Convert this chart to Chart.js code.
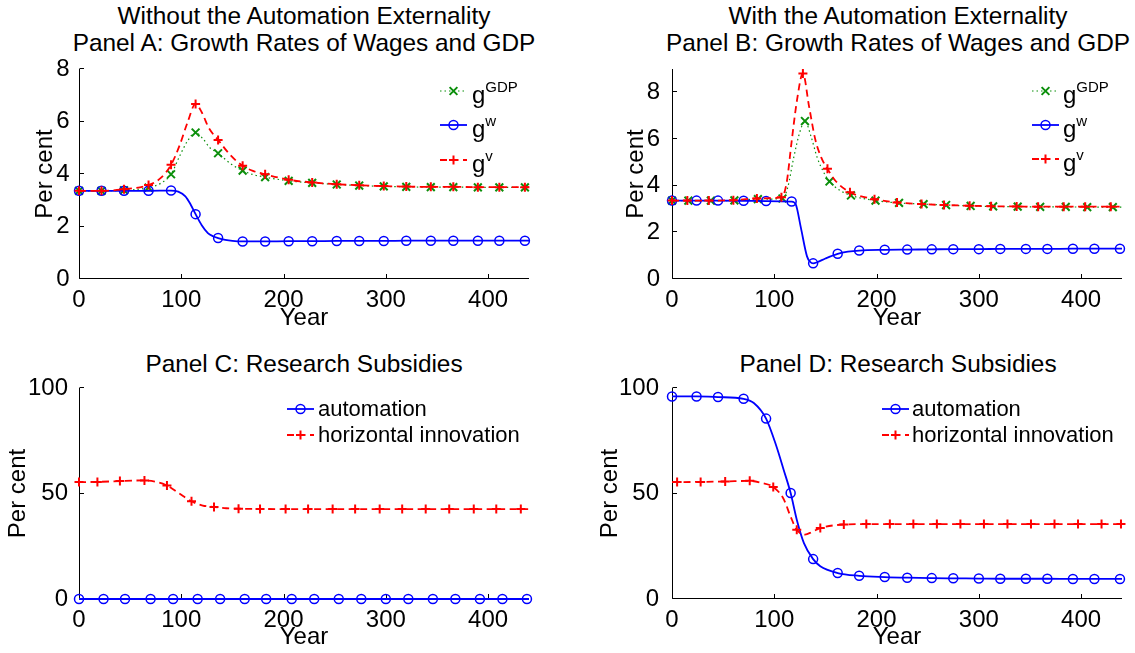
<!DOCTYPE html>
<html>
<head>
<meta charset="utf-8">
<script src="https://cdn.jsdelivr.net/npm/chart.js@4.4.0/dist/chart.umd.min.js"></script>
<style>
  html, body { margin: 0; padding: 0; background: #fff; }
  #fig { position: relative; width: 1135px; height: 653px; overflow: hidden; font-family: "Liberation Sans", Arial, Helvetica, sans-serif; }
  #fig canvas { position: absolute; }
  .ttl { position: absolute; width: 600px; text-align: center; font-size: 24.4px; line-height: 27.5px; color: #000; white-space: nowrap; }
</style>
</head>
<body>
<div id="fig">
  <div class="ttl" style="left:4px;top:1.5px">Without the Automation Externality<br>Panel A: Growth Rates of Wages and GDP</div>
  <div class="ttl" style="left:598px;top:1.5px">With the Automation Externality<br>Panel B: Growth Rates of Wages and GDP</div>
  <div class="ttl" style="left:4px;top:350px">Panel C: Research Subsidies</div>
  <div class="ttl" style="left:598px;top:350px">Panel D: Research Subsidies</div>
  <canvas id="cA" width="567" height="335" style="left:0;top:0"></canvas>
  <canvas id="cB" width="568" height="335" style="left:567px;top:0"></canvas>
  <canvas id="cC" width="567" height="323" style="left:0;top:330px"></canvas>
  <canvas id="cD" width="568" height="323" style="left:567px;top:330px"></canvas>
</div>
<script>
const FONT = '"Liberation Sans", Arial, Helvetica, sans-serif';

// ---- Panel A: growth rates, without the externality ----
const aMarks = [0, 22, 44, 68, 90, 114, 136, 160, 182, 205, 228, 252, 274, 298, 320, 344, 366, 390, 411, 436];
const aWageT = [0, 22, 44, 68, 90, 97, 104, 109, 114, 120, 126, 131, 136, 143, 150, 160, 182, 205, 228, 252, 274, 298, 320, 344, 366, 390, 411, 436, 440];
const aWage  = [3.36, 3.36, 3.36, 3.36, 3.37, 3.33, 3.15, 2.85, 2.47, 2.05, 1.75, 1.63, 1.56, 1.49, 1.45, 1.43, 1.43, 1.44, 1.44, 1.45, 1.45, 1.45, 1.46, 1.46, 1.46, 1.46, 1.46, 1.46, 1.46];
const aVT    = [0, 22, 44, 68, 80, 90, 98, 106, 114, 120, 127, 136, 148, 160, 170, 182, 205, 228, 252, 274, 298, 320, 344, 366, 390, 411, 436, 440];
const aV     = [3.36, 3.36, 3.42, 3.58, 3.85, 4.35, 5.05, 5.95, 6.67, 6.35, 5.75, 5.30, 4.72, 4.31, 4.12, 3.99, 3.78, 3.68, 3.61, 3.57, 3.54, 3.52, 3.51, 3.51, 3.50, 3.50, 3.50, 3.50];
const aGdpT  = [0, 22, 44, 68, 80, 90, 98, 106, 114, 121, 128, 136, 148, 160, 170, 182, 205, 228, 252, 274, 298, 320, 344, 366, 390, 411, 436, 440];
const aGdp   = [3.36, 3.36, 3.38, 3.48, 3.65, 3.99, 4.65, 5.25, 5.58, 5.35, 5.00, 4.79, 4.40, 4.13, 3.98, 3.88, 3.74, 3.66, 3.60, 3.56, 3.53, 3.51, 3.50, 3.50, 3.49, 3.49, 3.49, 3.49];

// ---- Panel B: growth rates, with the externality ----
const bWageMarks = [0, 24, 45, 70, 92, 117, 138, 162, 183, 208, 230, 254, 275, 300, 321, 346, 367, 392, 413, 438];
const bVMarks    = [0, 15, 36, 60, 83, 107, 128, 152, 174, 198, 220, 244, 266, 291, 312, 337, 358, 383, 404, 429];
const bGdpMarks  = [0, 16, 38, 61, 84, 108, 130, 154, 175, 199, 222, 246, 268, 292, 314, 338, 360, 385, 406, 431];
const bWageT = [0, 24, 45, 70, 92, 117, 121, 126, 132, 135, 138, 142, 150, 162, 172, 183, 208, 230, 254, 275, 300, 321, 346, 367, 392, 413, 438, 440];
const bWage  = [3.36, 3.36, 3.36, 3.35, 3.34, 3.32, 3.20, 2.20, 0.97, 0.74, 0.67, 0.72, 0.88, 1.08, 1.17, 1.22, 1.25, 1.26, 1.27, 1.28, 1.28, 1.29, 1.29, 1.29, 1.30, 1.30, 1.30, 1.30];
const bVT    = [0, 15, 36, 60, 83, 107, 112, 117, 122, 128, 134, 140, 146, 152, 160, 174, 198, 220, 244, 266, 291, 312, 337, 358, 383, 404, 429, 440];
const bV     = [3.36, 3.36, 3.36, 3.38, 3.45, 3.50, 4.10, 5.90, 7.60, 8.81, 7.40, 6.00, 5.20, 4.72, 4.20, 3.72, 3.42, 3.28, 3.21, 3.17, 3.14, 3.12, 3.11, 3.10, 3.10, 3.10, 3.10, 3.10];
const bGdpT  = [0, 16, 38, 61, 84, 108, 113, 119, 125, 130, 136, 142, 148, 154, 164, 175, 199, 222, 246, 268, 292, 314, 338, 360, 385, 406, 431, 440];
const bGdp   = [3.36, 3.36, 3.36, 3.37, 3.42, 3.45, 3.90, 5.20, 6.30, 6.77, 6.10, 5.20, 4.60, 4.18, 3.80, 3.58, 3.36, 3.26, 3.21, 3.17, 3.13, 3.11, 3.10, 3.09, 3.09, 3.08, 3.08, 3.08];

// ---- Panel C: research subsidies, without the externality ----
const cAutoMarks = [0, 24, 45, 70, 92, 116, 138, 162, 183, 208, 230, 254, 276, 300, 322, 346, 368, 392, 414, 438];
const cAutoT = [0, 24, 45, 70, 92, 116, 138, 162, 183, 208, 230, 254, 276, 300, 322, 346, 368, 392, 414, 438, 440];
const cAuto  = [0, 0, 0, 0, 0, 0, 0, 0, 0, 0, 0, 0, 0, 0, 0, 0, 0, 0, 0, 0, 0];
const cHorMarks = [0, 18, 40, 64, 86, 110, 132, 156, 177, 202, 224, 248, 270, 294, 316, 339, 362, 386, 408, 432];
const cHorT = [0, 18, 40, 64, 75, 86, 98, 110, 121, 132, 144, 156, 177, 202, 224, 248, 270, 294, 316, 339, 362, 386, 408, 432, 440];
const cHor  = [55.4, 55.5, 55.9, 56.2, 55.6, 53.8, 50.0, 46.3, 44.3, 43.6, 43.0, 42.8, 42.7, 42.6, 42.6, 42.6, 42.6, 42.6, 42.6, 42.6, 42.6, 42.6, 42.6, 42.6, 42.6];

// ---- Panel D: research subsidies, with the externality ----
const dAutoMarks = [0, 24, 45, 70, 92, 116, 138, 162, 183, 208, 230, 254, 275, 300, 321, 346, 367, 392, 413, 438];
const dAutoT = [0, 24, 45, 70, 80, 92, 102, 109, 116, 122, 129, 138, 145, 162, 183, 208, 230, 254, 275, 300, 321, 346, 367, 392, 413, 438, 440];
const dAuto  = [96.0, 96.0, 95.7, 94.9, 92.9, 85.5, 72.5, 61.5, 50.2, 37.6, 26.5, 18.9, 15.5, 12.3, 11.0, 10.4, 10.1, 9.9, 9.8, 9.7, 9.6, 9.6, 9.6, 9.5, 9.5, 9.5, 9.5];
const dHorMarks = [5, 28, 52, 76, 99, 122, 145, 168, 190, 213, 236, 259, 282, 305, 328, 351, 374, 397, 420, 439];
const dHorT = [0, 5, 28, 52, 76, 88, 99, 109, 116, 122, 130, 137, 145, 168, 190, 213, 236, 259, 282, 305, 328, 351, 374, 397, 420, 439, 440];
const dHor  = [55.4, 55.4, 55.5, 55.7, 56.0, 55.0, 53.1, 47.5, 39.0, 32.8, 30.5, 31.8, 33.6, 35.3, 35.5, 35.5, 35.5, 35.5, 35.5, 35.5, 35.5, 35.5, 35.5, 35.5, 35.5, 35.5, 35.5];

// line styles (matlab-like)
const STY = {
  gdp: { color: '#0b8f0b', dash: [1.5, 3], width: 1.2, marker: 'x', r: 5.5, mw: 2 },
  w:   { color: '#0000ff', dash: [],       width: 1.8, marker: 'o', r: 4.5, mw: 1.5 },
  v:   { color: '#ff0000', dash: [7, 4.5], width: 1.8, marker: '+', r: 4.5, mw: 2 },
};

Chart.defaults.font.family = FONT;
Chart.defaults.color = '#000';

function line(t, v, marks, s) {
  return {
    data: t.map((x, i) => ({ x, y: v[i] })),
    borderColor: s.color,
    backgroundColor: 'rgba(0,0,0,0)',
    borderWidth: s.width,
    borderDash: s.dash,
    pointStyle: { o: 'circle', x: 'crossRot', '+': 'cross' }[s.marker],
    pointBorderColor: s.color,
    pointBackgroundColor: 'rgba(0,0,0,0)',
    pointBorderWidth: s.mw,
    pointRadius: c => (c.raw && marks.includes(c.raw.x)) ? s.r : 0,
    pointHoverRadius: 0,
    cubicInterpolationMode: 'monotone',
    fill: false,
    clip: false,
  };
}

function marker(ctx, s, x, y) {
  ctx.save();
  ctx.setLineDash([]);
  ctx.lineWidth = s.mw;
  ctx.strokeStyle = s.color;
  ctx.beginPath();
  if (s.marker === 'o') {
    ctx.arc(x, y, s.r, 0, Math.PI * 2);
  } else if (s.marker === '+') {
    ctx.moveTo(x - s.r, y); ctx.lineTo(x + s.r, y);
    ctx.moveTo(x, y - s.r); ctx.lineTo(x, y + s.r);
  } else {
    const d = s.r * Math.SQRT1_2;
    ctx.moveTo(x - d, y - d); ctx.lineTo(x + d, y + d);
    ctx.moveTo(x - d, y + d); ctx.lineTo(x + d, y - d);
  }
  ctx.stroke();
  ctx.restore();
}

// axes with inward ticks (box off) + legend box
function decor(leg) {
  return {
    id: 'decor',
    beforeDatasetsDraw(chart) {
      const { ctx, chartArea: a, scales: { x, y } } = chart;
      const L = Math.round(a.left) + 0.5, B = Math.round(a.bottom) - 0.5;
      ctx.save();
      ctx.strokeStyle = '#000';
      ctx.lineWidth = 1;
      ctx.beginPath();
      ctx.moveTo(L, a.top); ctx.lineTo(L, B); ctx.lineTo(a.right, B);
      x.ticks.forEach(t => {
        const px = Math.round(x.getPixelForValue(t.value)) + 0.5;
        ctx.moveTo(px, B); ctx.lineTo(px, B - 4.5);
      });
      y.ticks.forEach(t => {
        const py = Math.round(y.getPixelForValue(t.value)) - 0.5;
        ctx.moveTo(L, py); ctx.lineTo(L + 4.5, py);
      });
      ctx.stroke();
      ctx.restore();
    },
    afterDatasetsDraw(chart) {
      const ctx = chart.ctx;
      leg.items.forEach(it => {
        const s = it.s;
        ctx.save();
        ctx.strokeStyle = s.color;
        ctx.lineWidth = s.width;
        ctx.setLineDash(s.dash);
        ctx.beginPath();
        ctx.moveTo(leg.x0, it.y); ctx.lineTo(leg.x0 + leg.len, it.y);
        ctx.stroke();
        ctx.restore();
        marker(ctx, s, leg.x0 + leg.len / 2, it.y);
        ctx.save();
        ctx.fillStyle = '#000';
        if (it.sup) {
          ctx.font = '24px ' + FONT;
          ctx.textBaseline = 'alphabetic';
          ctx.fillText('g', leg.tx, it.y + 12);
          const gw = ctx.measureText('g').width;
          ctx.font = '15px ' + FONT;
          ctx.fillText(it.sup, leg.tx + gw, it.y + 0.5);
        } else {
          ctx.font = '22px ' + FONT;
          ctx.textBaseline = 'middle';
          ctx.fillText(it.text, leg.tx, it.y + 0.5);
        }
        ctx.restore();
      });
    },
  };
}

function panel(id, datasets, g) {
  return new Chart(document.getElementById(id), {
    type: 'line',
    data: { datasets },
    options: {
      responsive: false,
      animation: false,
      devicePixelRatio: 1,
      events: [],
      layout: { padding: { left: 0, top: g.top, right: g.right, bottom: 0 } },
      plugins: { legend: { display: false }, tooltip: { enabled: false } },
      scales: {
        x: {
          type: 'linear', min: 0, max: 440,
          afterFit: s => { s.height = g.xh; },
          grid: { display: false }, border: { display: false },
          ticks: { stepSize: 100, includeBounds: false, padding: -1, maxRotation: 0, autoSkip: false, color: '#000', font: { size: 24 } },
          title: { display: true, text: 'Year', color: '#000', font: { size: 24 }, padding: { top: 0, bottom: g.xpb } },
        },
        y: {
          type: 'linear', min: 0, max: g.ymax,
          afterFit: s => { s.width = g.yw; },
          grid: { display: false }, border: { display: false },
          ticks: { stepSize: g.ystep, includeBounds: false, padding: g.ytp, color: '#000', font: { size: 24 } },
          title: { display: true, text: 'Per cent', color: '#000', font: { size: 24 }, padding: { top: g.ypt, bottom: 0 } },
        },
      },
    },
    plugins: [decor(g.leg)],
  });
}

panel('cA', [
  line(aVT, aV, aMarks, STY.v),
  line(aWageT, aWage, aMarks, STY.w),
  line(aGdpT, aGdp, aMarks, STY.gdp),
], {
  top: 69, right: 38, xh: 56, xpb: 2.3, yw: 79, ypt: 30.6, ymax: 8, ystep: 2, ytp: 1.5,
  leg: { x0: 440, len: 27, tx: 472, items: [
    { s: STY.gdp, sup: 'GDP', y: 91 },
    { s: STY.w, sup: 'w', y: 125 },
    { s: STY.v, sup: 'v', y: 160 },
  ] },
});

panel('cB', [
  line(bVT, bV, bVMarks, STY.v),
  line(bWageT, bWage, bWageMarks, STY.w),
  line(bGdpT, bGdp, bGdpMarks, STY.gdp),
], {
  top: 69, right: 13, xh: 56, xpb: 2.3, yw: 105, ypt: 55.3, ymax: 9, ystep: 2, ytp: 4,
  leg: { x0: 465, len: 27, tx: 496, items: [
    { s: STY.gdp, sup: 'GDP', y: 91 },
    { s: STY.w, sup: 'w', y: 125 },
    { s: STY.v, sup: 'v', y: 159 },
  ] },
});

panel('cC', [
  line(cHorT, cHor, cHorMarks, STY.v),
  line(cAutoT, cAuto, cAutoMarks, STY.w),
], {
  top: 58, right: 38, xh: 54, xpb: 1.1, yw: 79, ypt: 3.6, ymax: 100, ystep: 50, ytp: 3,
  leg: { x0: 287, len: 27, tx: 318, items: [
    { s: STY.w, text: 'automation', y: 79 },
    { s: STY.v, text: 'horizontal innovation', y: 105 },
  ] },
});

panel('cD', [
  line(dHorT, dHor, dHorMarks, STY.v),
  line(dAutoT, dAuto, dAutoMarks, STY.w),
], {
  top: 58, right: 13, xh: 54, xpb: 1.1, yw: 105, ypt: 28.6, ymax: 100, ystep: 50, ytp: 5,
  leg: { x0: 315, len: 27, tx: 345, items: [
    { s: STY.w, text: 'automation', y: 79 },
    { s: STY.v, text: 'horizontal innovation', y: 105 },
  ] },
});
</script>
</body>
</html>
